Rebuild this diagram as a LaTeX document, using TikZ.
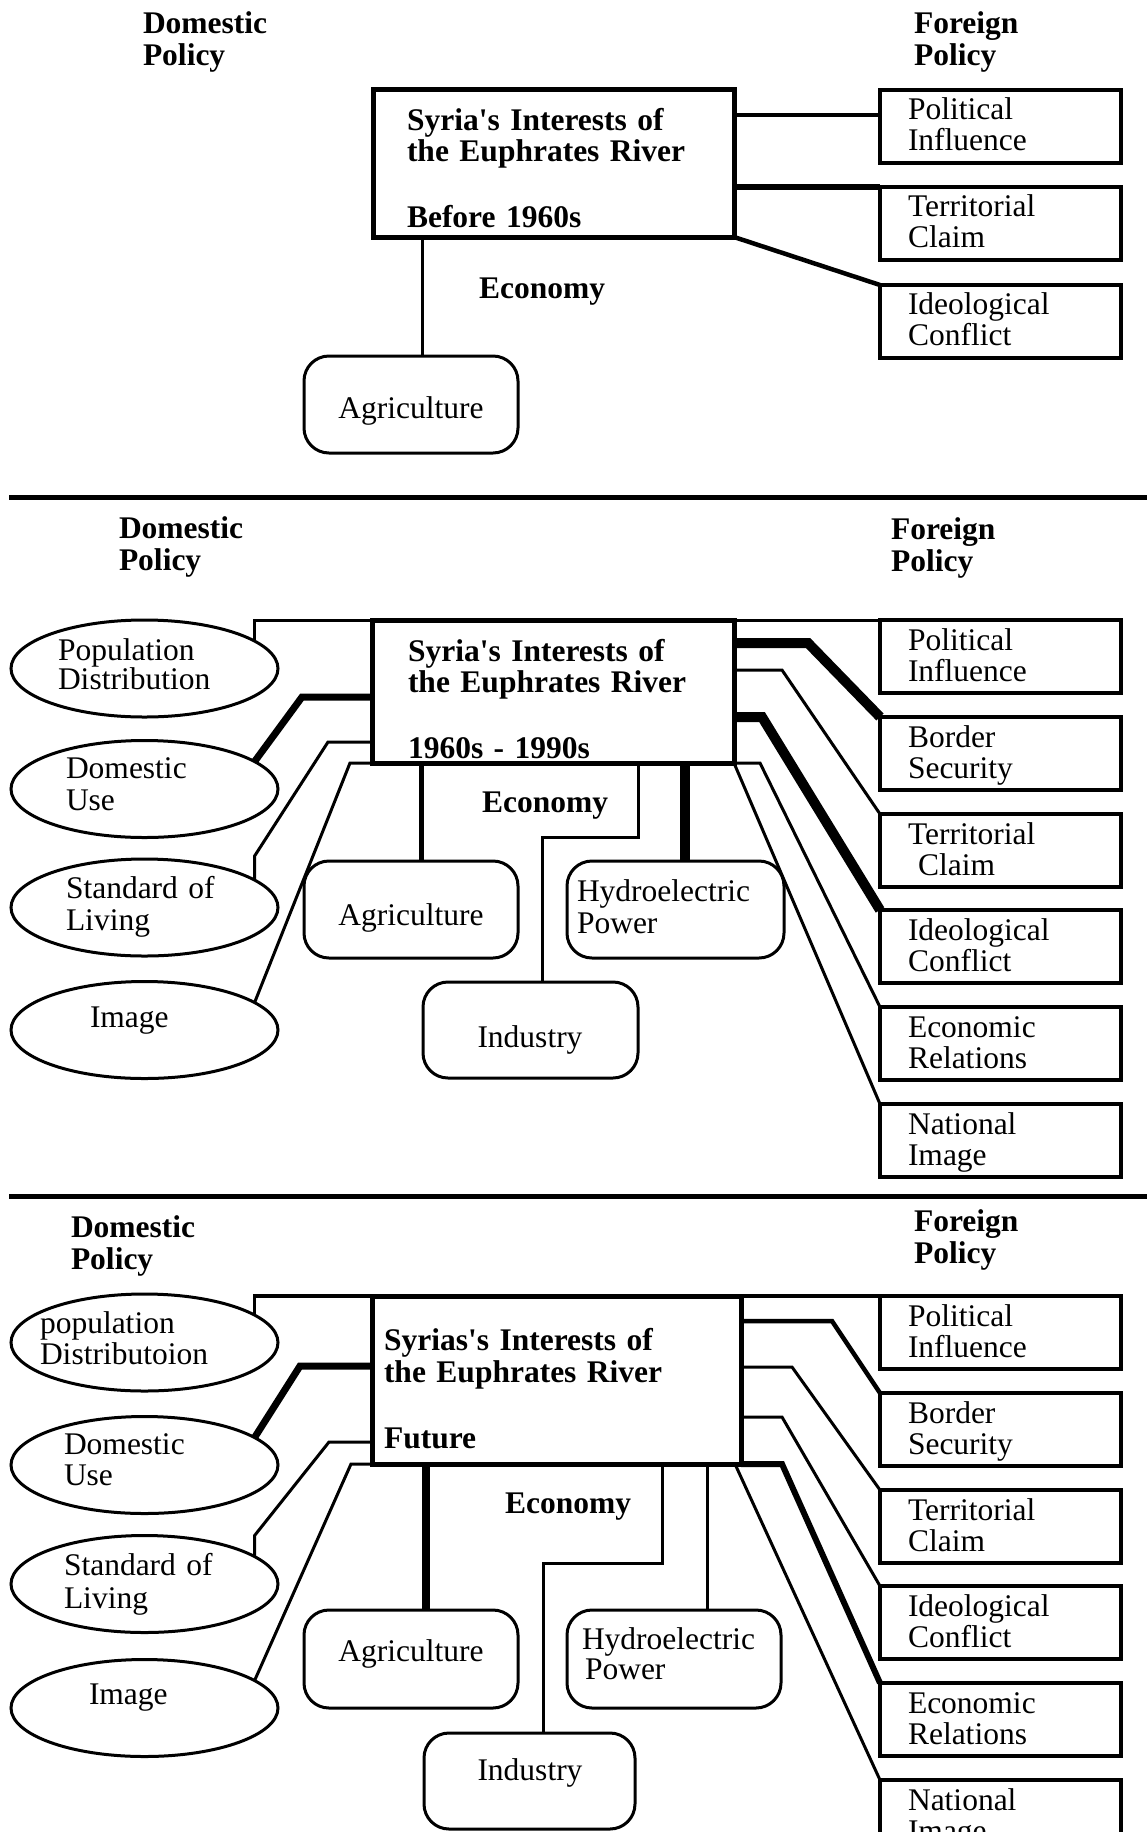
\documentclass[tikz,border=0pt]{standalone}
\usepackage{fontspec}
\setmainfont{Liberation Serif}
\usetikzlibrary{shapes.geometric,calc}

\tikzset{
  every node/.style={inner sep=0pt, outer sep=0pt},
  hdr/.style={font=\bfseries\fontsize{31.5}{32}\selectfont, anchor=base west, text width=200pt, align=left},
  ctitle/.style={font=\bfseries\fontsize{31.5}{31.5}\selectfont, anchor=base west, text width=345pt, align=left},
  lab/.style={font=\fontsize{31.5}{31.5}\selectfont, anchor=base west, text width=230pt, align=left},
  one/.style={font=\fontsize{31.5}{31.5}\selectfont, anchor=base},
  econ/.style={font=\bfseries\fontsize{31.5}{31.5}\selectfont, anchor=base west},
  core/.style={draw, rectangle, line width=5pt},
  fbox/.style={draw, rectangle, line width=3.5pt, minimum width=241pt, minimum height=73pt},
  dom/.style={draw, ellipse, line width=3pt, minimum width=267pt, minimum height=97pt},
  eco/.style={draw, rectangle, rounded corners=25pt, line width=3pt, minimum height=97pt},
  lnthin/.style={line width=3pt},
  med/.style={line width=4.5pt},
  heavy/.style={line width=7pt},
  heavier/.style={line width=10pt},
  rule/.style={line width=5pt},
}

\begin{document}
\begin{tikzpicture}[x=1pt, y=-1pt]
\clip (0,0) rectangle (1147,1832);
\fill[white] (0,0) rectangle (1147,1832);

% ---------------- Before 1960s ----------------
\node[hdr] (d1) at (143,33) {Domestic\\Policy};
\node[hdr] (f1) at (914,33) {Foreign\\Policy};

\node[core, minimum width=361pt, minimum height=148pt] (m1) at (553.5,163) {};
\node[ctitle] (m1t) at (407,130) {Syria\textquotesingle s Interests of\\the Euphrates River\\[34pt]Before 1960s};

\node[fbox] (p1) at (1000.5,126.5) {};
\node[fbox] (t1) at (1000.5,223.5) {};
\node[fbox] (i1) at (1000.5,321.5) {};
\node[lab] (p1t) at (908,119) {Political\\Influence};
\node[lab] (t1t) at (908,216) {Territorial\\Claim};
\node[lab] (i1t) at (908,314) {Ideological\\Conflict};

\node[eco, minimum width=214pt] (a1) at (411,404.5) {};
\node[one] (a1t) at (411,418) {Agriculture};
\node[econ] (e1) at (479,298) {Economy};

\draw[line width=4pt] ($(m1.north east)+(0,26)$) -- ($(p1.north west)+(0,25)$);
\draw[line width=5.5pt] ($(m1.north east)+(0,98)$) -- (t1.north west);
\draw[med] (m1.south east) -- (i1.north west);
\draw[lnthin] ($(m1.south west)+(49,0)$) -- ($(a1.north)+(11,0)$);

\coordinate (s1a) at (9,497);
\coordinate (s1b) at (1147,497);
\draw[rule] (s1a) -- (s1b);

% ---------------- 1960s - 1990s ----------------
\node[hdr] (d2) at (119,538) {Domestic\\Policy};
\node[hdr] (f2) at (891,539) {Foreign\\Policy};

\node[core, minimum width=362pt, minimum height=143pt] (m2) at (553,691.5) {};
\node[ctitle] (m2t) at (408,661) {Syria\textquotesingle s Interests of\\the Euphrates River\\[34pt]1960s - 1990s};

\node[dom] (pd2) at (144.5,668.5) {};
\node[dom] (du2) at (144.5,789) {};
\node[dom] (sl2) at (144.5,907.5) {};
\node[dom] (im2) at (144.5,1030) {};
\node[lab, font=\fontsize{31.5}{28}\selectfont] (pd2t) at (58,660) {Population\\Distribution};
\node[lab, font=\fontsize{31.5}{32}\selectfont] (du2t) at (66,778) {Domestic\\Use};
\node[lab, font=\fontsize{31.5}{32}\selectfont] (sl2t) at (66,898) {Standard of\\Living};
\node[lab] (im2t) at (90,1027) {Image};

\node[fbox] (pi2) at (1000.5,656.5) {};
\node[fbox] (bs2) at (1000.5,753.5) {};
\node[fbox] (tc2) at (1000.5,850.5) {};
\node[fbox] (ic2) at (1000.5,946.5) {};
\node[fbox] (er2) at (1000.5,1043.5) {};
\node[fbox] (ni2) at (1000.5,1140.5) {};
\node[lab] (pi2t) at (908,650) {Political\\Influence};
\node[lab] (bs2t) at (908,747) {Border\\Security};
\node[lab] (tc2t) at (908,844) {Territorial\\\hspace*{10pt}Claim};
\node[lab] (ic2t) at (908,940) {Ideological\\Conflict};
\node[lab] (er2t) at (908,1037) {Economic\\Relations};
\node[lab] (ni2t) at (908,1134) {National\\Image};

\node[eco, minimum width=214pt] (ag2) at (411,909.5) {};
\node[eco, minimum width=217pt] (hy2) at (675.5,909.5) {};
\node[eco, minimum width=215pt, minimum height=96pt] (in2) at (530.5,1030) {};
\node[one] (ag2t) at (411,925) {Agriculture};
\node[lab, font=\fontsize{31.5}{32}\selectfont] (hy2t) at (577,901) {Hydroelectric\\Power};
\node[one] (in2t) at (530,1047) {Industry};
\node[econ] (e2) at (482,812) {Economy};

\draw[lnthin] (pd2.14) |- (pi2.north west);
\draw[heavy] ($(m2.north west)+(0,77)$) -- ++(-70,0) -- (du2.14);
\draw[lnthin] ($(m2.north west)+(0,122)$) -- ++(-44,0) -- ($(sl2.14)+(0,-24)$) -- (sl2.14);
\draw[lnthin] (m2.south west) -- ++(-22,0) -- (im2.14);
\draw[line width=5pt] ($(m2.south west)+(49,0)$) -- ($(ag2.north)+(10,0)$);
\draw[lnthin] ($(m2.south west)+(266,0)$) -- ++(0,74) -| ($(in2.north)+(11.5,0)$);
\draw[heavier] ($(m2.south west)+(313,0)$) -- ($(hy2.north)+(9.5,0)$);
\draw[heavier] ($(m2.north east)+(0,23)$) -- ++(74,0) -- (bs2.north west);
\draw[lnthin] ($(m2.north east)+(0,50)$) -- ++(48,0) -- (tc2.north west);
\draw[heavier] ($(m2.north east)+(0,97)$) -- ++(28,0) -- (ic2.north west);
\draw[lnthin] (m2.south east) -- ++(26,0) -- (er2.north west);
\draw[lnthin] (m2.south east) -- (ni2.north west);

\coordinate (s2a) at (9,1196);
\coordinate (s2b) at (1147,1196);
\draw[rule] (s2a) -- (s2b);

% ---------------- Future ----------------
\node[hdr] (d3) at (71,1237) {Domestic\\Policy};
\node[hdr] (f3) at (914,1231) {Foreign\\Policy};

\node[core, minimum width=369pt, minimum height=168pt] (m3) at (556.5,1380) {};
\node[ctitle, font=\bfseries\fontsize{31.5}{32}\selectfont] (m3t) at (384,1350) {Syrias\textquotesingle s Interests of\\the Euphrates River\\[34pt]Future};

\node[dom] (pd3) at (144.5,1342.5) {};
\node[dom] (du3) at (144.5,1465) {};
\node[dom] (sl3) at (144.5,1584) {};
\node[dom] (im3) at (144.5,1708) {};
\node[lab] (pd3t) at (40,1333) {population\\Distributoion};
\node[lab] (du3t) at (64,1454) {Domestic\\Use};
\node[lab, font=\fontsize{31.5}{33}\selectfont] (sl3t) at (64,1575) {Standard of\\Living};
\node[lab] (im3t) at (89,1704) {Image};

\node[fbox] (pi3) at (1000.5,1332.5) {};
\node[fbox] (bs3) at (1000.5,1429.5) {};
\node[fbox] (tc3) at (1000.5,1526.5) {};
\node[fbox] (ic3) at (1000.5,1622.5) {};
\node[fbox] (er3) at (1000.5,1719.5) {};
\node[fbox] (ni3) at (1000.5,1816.5) {};
\node[lab] (pi3t) at (908,1326) {Political\\Influence};
\node[lab] (bs3t) at (908,1423) {Border\\Security};
\node[lab] (tc3t) at (908,1520) {Territorial\\Claim};
\node[lab] (ic3t) at (908,1616) {Ideological\\Conflict};
\node[lab] (er3t) at (908,1713) {Economic\\Relations};
\node[lab] (ni3t) at (908,1810) {National\\Image};

\node[eco, minimum width=214pt, minimum height=98pt] (ag3) at (411,1659) {};
\node[eco, minimum width=214pt, minimum height=98pt] (hy3) at (674,1659) {};
\node[eco, minimum width=211pt, minimum height=96pt] (in3) at (529.5,1781) {};
\node[one] (ag3t) at (411,1661) {Agriculture};
\node[lab, font=\fontsize{31.5}{30}\selectfont] (hy3t) at (582,1649) {Hydroelectric\\\hspace*{3pt}Power};
\node[one] (in3t) at (530,1780) {Industry};
\node[econ] (e3) at (505,1513) {Economy};

\draw[line width=3.5pt] (pd3.14) |- (pi3.north west);
\draw[heavy] ($(m3.north west)+(0,70)$) -- ++(-72,0) -- (du3.14);
\draw[lnthin] ($(m3.north west)+(0,146)$) -- ++(-43,0) -- ($(sl3.14)+(0,-21)$) -- (sl3.14);
\draw[lnthin] (m3.south west) -- ++(-21,0) -- (im3.14);
\draw[line width=8pt] ($(m3.south west)+(54,0)$) -- ($(ag3.north)+(15,0)$);
\draw[lnthin] ($(m3.south west)+(290,0)$) -- ++(0,99) -| ($(in3.north)+(13.5,0)$);
\draw[lnthin] ($(m3.south west)+(335,0)$) -- ($(hy3.north)+(33,0)$);
\draw[med] ($(m3.north east)+(0,25)$) -- ++(91,0) -- (bs3.north west);
\draw[lnthin] ($(m3.north east)+(0,71)$) -- ++(51,0) -- (tc3.north west);
\draw[lnthin] ($(m3.north east)+(0,121)$) -- ++(41,0) -- (ic3.north west);
\draw[line width=6pt] (m3.south east) -- ++(41,0) -- (er3.north west);
\draw[lnthin] ($(m3.south east)+(-6,0)$) -- (ni3.north west);
\end{tikzpicture}
\end{document}
